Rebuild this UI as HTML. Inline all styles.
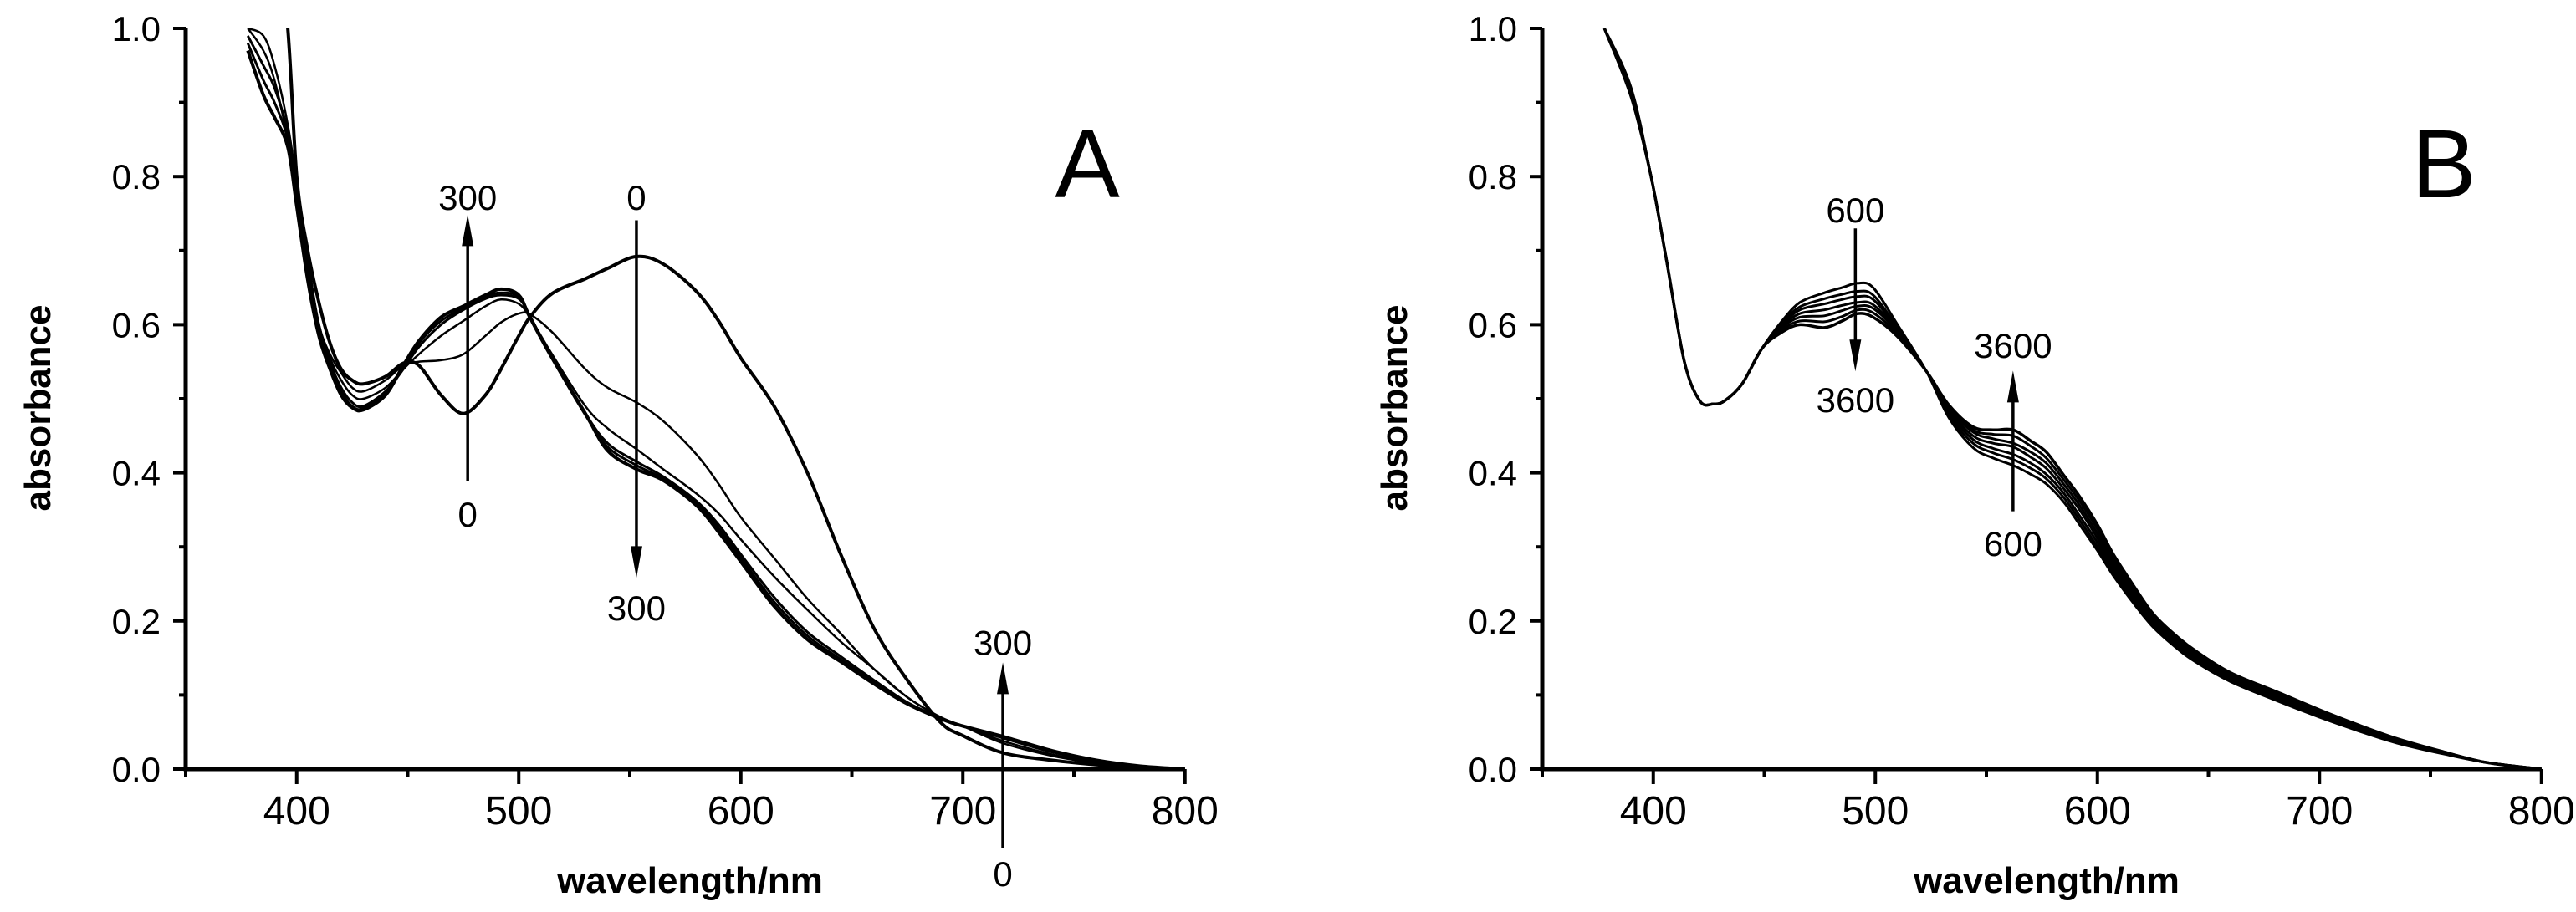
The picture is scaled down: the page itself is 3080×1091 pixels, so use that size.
<!DOCTYPE html>
<html><head><meta charset="utf-8"><style>
html,body{margin:0;padding:0;background:#fff;}
svg{display:block;font-family:"Liberation Sans",Arial,sans-serif;}
</style></head><body>
<svg id="chart" width="3080" height="1091" viewBox="0 0 3080 1091" xmlns="http://www.w3.org/2000/svg"></svg>
<script>
// ---------- Panel A data ----------
const wlA = [378,385,390,396,400,405,410,415,420,425,430,440,448,455,465,475,485,492,500,505,515,530,540,553,565,580,590,600,615,630,645,660,675,690,700,718,740,760,780,800];
const aT0 = [1.6,1.35,1.17,1.0,0.8,0.7,0.63,0.575,0.54,0.525,0.52,0.53,0.548,0.545,0.505,0.48,0.505,0.54,0.585,0.61,0.642,0.662,0.676,0.692,0.682,0.645,0.605,0.555,0.49,0.40,0.29,0.19,0.12,0.063,0.045,0.022,0.012,0.006,0.002,0];
const aT1 = [1.0,0.97,0.93,0.85,0.78,0.68,0.6,0.56,0.535,0.515,0.51,0.525,0.545,0.55,0.552,0.56,0.585,0.603,0.615,0.614,0.59,0.54,0.515,0.495,0.47,0.425,0.385,0.34,0.285,0.23,0.183,0.135,0.097,0.07,0.058,0.035,0.018,0.008,0.003,0];
const aT2 = [1.0,0.99,0.95,0.87,0.79,0.69,0.6,0.555,0.525,0.505,0.5,0.515,0.54,0.56,0.585,0.605,0.625,0.634,0.628,0.61,0.56,0.49,0.46,0.432,0.405,0.372,0.345,0.31,0.26,0.215,0.172,0.135,0.097,0.07,0.058,0.038,0.02,0.009,0.003,0];
const aT3 = [0.99,0.95,0.92,0.86,0.78,0.68,0.6,0.55,0.515,0.495,0.49,0.51,0.54,0.57,0.6,0.62,0.635,0.64,0.635,0.612,0.555,0.48,0.44,0.415,0.395,0.362,0.33,0.29,0.232,0.185,0.152,0.12,0.09,0.069,0.058,0.042,0.023,0.011,0.004,0];
const aT4 = [0.98,0.93,0.90,0.85,0.77,0.67,0.59,0.545,0.51,0.49,0.487,0.508,0.542,0.575,0.605,0.622,0.638,0.643,0.638,0.612,0.555,0.478,0.435,0.41,0.392,0.36,0.325,0.285,0.226,0.18,0.148,0.117,0.089,0.068,0.058,0.043,0.024,0.012,0.004,0];
const aT5 = [0.97,0.91,0.88,0.84,0.76,0.66,0.585,0.54,0.505,0.488,0.485,0.505,0.545,0.578,0.61,0.625,0.64,0.648,0.64,0.61,0.555,0.48,0.43,0.405,0.39,0.356,0.32,0.28,0.22,0.175,0.145,0.115,0.088,0.068,0.058,0.044,0.025,0.012,0.004,0];
const seriesA = [aT0,aT1,aT2,aT3,aT4,aT5];
const widthsA = [4,2.5,2.5,3,3,4];

// ---------- Panel B data ----------
const wlB = [378,390,399,406,414,421,427,432,440,449,458,466,477,485,492,499,510,523,533,544,553,562,570,577,585,592,600,607,616,625,635,644,660,681,700,718,735,755,775,800];
const bT600  = [1.0,0.92,0.80,0.686,0.55,0.497,0.493,0.497,0.52,0.568,0.605,0.630,0.643,0.650,0.656,0.650,0.600,0.537,0.475,0.434,0.420,0.410,0.398,0.385,0.360,0.330,0.295,0.262,0.225,0.192,0.165,0.145,0.118,0.092,0.070,0.051,0.035,0.021,0.009,0];
const bT1100 = [1.0,0.918,0.80,0.686,0.55,0.497,0.493,0.497,0.52,0.568,0.603,0.624,0.635,0.641,0.645,0.640,0.596,0.537,0.478,0.440,0.427,0.418,0.406,0.392,0.366,0.336,0.300,0.266,0.229,0.195,0.168,0.147,0.120,0.094,0.072,0.052,0.036,0.022,0.009,0];
const bT1600 = [1.0,0.916,0.80,0.686,0.55,0.497,0.493,0.497,0.52,0.568,0.600,0.620,0.628,0.634,0.638,0.634,0.594,0.537,0.482,0.445,0.433,0.425,0.413,0.398,0.372,0.342,0.306,0.271,0.233,0.198,0.170,0.150,0.122,0.096,0.073,0.054,0.037,0.022,0.009,0];
const bT2100 = [1.0,0.914,0.80,0.686,0.55,0.497,0.493,0.497,0.52,0.568,0.598,0.615,0.620,0.626,0.630,0.627,0.592,0.537,0.485,0.450,0.440,0.435,0.421,0.406,0.378,0.350,0.312,0.276,0.237,0.201,0.173,0.152,0.124,0.098,0.075,0.055,0.038,0.023,0.009,0];
const bT2600 = [1.0,0.912,0.80,0.686,0.55,0.497,0.493,0.497,0.52,0.568,0.596,0.610,0.612,0.619,0.625,0.622,0.590,0.537,0.488,0.455,0.446,0.440,0.428,0.413,0.384,0.356,0.318,0.281,0.241,0.204,0.176,0.155,0.126,0.100,0.077,0.056,0.039,0.023,0.009,0];
const bT3100 = [1.0,0.91,0.80,0.686,0.55,0.497,0.493,0.497,0.52,0.568,0.593,0.605,0.604,0.611,0.620,0.616,0.587,0.537,0.490,0.458,0.452,0.450,0.436,0.420,0.390,0.362,0.324,0.286,0.245,0.207,0.178,0.157,0.128,0.102,0.078,0.058,0.040,0.024,0.009,0];
const bT3600 = [1.0,0.908,0.80,0.686,0.55,0.497,0.493,0.497,0.52,0.568,0.590,0.600,0.596,0.605,0.615,0.610,0.584,0.537,0.492,0.462,0.458,0.458,0.443,0.428,0.396,0.368,0.330,0.291,0.249,0.210,0.181,0.160,0.130,0.104,0.080,0.059,0.041,0.024,0.009,0];
const seriesB = [bT600,bT1100,bT1600,bT2100,bT2600,bT3100,bT3600];

const xTicks = [400,500,600,700,800];
const yTicks = [0,0.2,0.4,0.6,0.8,1.0];

const NS = "http://www.w3.org/2000/svg";
const svg = document.getElementById('chart');
function mk(tag, attrs, parent){
  const e = document.createElementNS(NS, tag);
  for (const k in attrs) e.setAttribute(k, attrs[k]);
  (parent||svg).appendChild(e);
  return e;
}
function smoothPath(pts){
  let d = 'M'+pts[0][0].toFixed(1)+' '+pts[0][1].toFixed(1);
  for (let i=0;i<pts.length-1;i++){
    const p0 = pts[Math.max(0,i-1)], p1 = pts[i], p2 = pts[i+1], p3 = pts[Math.min(pts.length-1,i+2)];
    const c1x = p1[0]+(p2[0]-p0[0])/6, c1y = p1[1]+(p2[1]-p0[1])/6;
    const c2x = p2[0]-(p3[0]-p1[0])/6, c2y = p2[1]-(p3[1]-p1[1])/6;
    d += ` C${c1x.toFixed(1)} ${c1y.toFixed(1)} ${c2x.toFixed(1)} ${c2y.toFixed(1)} ${p2[0].toFixed(1)} ${p2[1].toFixed(1)}`;
  }
  return d;
}

function panel(id, x0, wl, series, widths, letter, arrows){
  const x1 = x0 + 450*2.655, yTop = 34, yBot = 920;
  const X = v => x0 + (v-350)/450*(x1-x0);
  const Y = v => yBot - v*(yBot-yTop);
  const g = mk('g', {});
  
  
  const cp = mk('clipPath', {id:'clip'+id}, g);
  mk('rect', {x:x0, y:yTop, width:x1-x0, height:yBot-yTop}, cp);
  const sg = mk('g', {'clip-path':'url(#clip'+id+')'}, g);
  series.forEach((s,i)=>{
    const pts = s.map((v,j)=>[X(wl[j]), Y(v)]);
    const p = mk('path', {d:smoothPath(pts), fill:'none', stroke:'#000', 'stroke-width':widths[i], 'stroke-linejoin':'round'}, sg);
    
    
  });
  const ax = mk('path', {d:`M${x0} ${yTop} L${x0} ${yBot} L${x1} ${yBot}`, fill:'none', stroke:'#000', 'stroke-width':5}, g);
  
  
  for (let v=350; v<=800; v+=50){
    const major = v%100===0;
    mk('line', {x1:X(v), x2:X(v), y1:yBot, y2:yBot+(major?18:10), stroke:'#000', 'stroke-width':4}, g);
  }
  for (let k=0; k<=10; k++){
    const major = k%2===0;
    mk('line', {x1:x0, x2:x0-(major?15:8), y1:Y(k/10), y2:Y(k/10), stroke:'#000', 'stroke-width':4}, g);
  }
  xTicks.forEach(v=>{
    const t = mk('text', {x:X(v), y:986, 'font-size':48, 'text-anchor':'middle'}, g);
    t.textContent = v;
    
    
  });
  yTicks.forEach(v=>{
    const t = mk('text', {x:x0-30, y:Y(v)+15, 'font-size':42, 'text-anchor':'end'}, g);
    t.textContent = v.toFixed(1);
    
    
  });
  const xl = mk('text', {x:x0+603, y:1068, 'font-size':44, 'font-weight':'bold', 'text-anchor':'middle'}, g);
  xl.textContent = 'wavelength/nm';
  
  
  const yl = mk('text', {x:0, y:0, 'font-size':44, 'font-weight':'bold', 'text-anchor':'middle', transform:`translate(${x0-162},488) rotate(-90)`}, g);
  yl.textContent = 'absorbance';
  
  
  const pl = mk('text', {x:x0+1078, y:236, 'font-size':116, 'text-anchor':'middle'}, g);
  pl.textContent = letter;
  
  
  arrows.forEach(a=>{
    const ax2 = X(a[0]);
    const yf = a[1]===null ? 1015 : Y(a[1]);
    const yt = Y(a[2]);
    const dir = yt<yf ? 1 : -1;
    const ag = mk('g', {}, g);
    
    
    mk('line', {x1:ax2, x2:ax2, y1:yf, y2:yt+dir*30, stroke:'#000', 'stroke-width':3.5}, ag);
    mk('path', {d:`M${ax2} ${yt} L${ax2-7} ${yt+dir*38} L${ax2+7} ${yt+dir*38} Z`, fill:'#000'}, ag);
    const t1 = mk('text', {x:ax2, y:(a[5]===null?1045:Y(a[5]))+15, 'font-size':42, 'text-anchor':'middle'}, ag);
    t1.textContent = a[3];
    const t2 = mk('text', {x:ax2, y:Y(a[6])+15, 'font-size':42, 'text-anchor':'middle'}, ag);
    t2.textContent = a[4];
  });
}

panel('a', 222, wlA, seriesA, widthsA, 'A', [
  [477, 0.389, 0.749, '0', '300', 0.344, 0.772],
  [553, 0.741, 0.258, '0', '300', 0.772, 0.218],
  [718, null, 0.144, '0', '300', null, 0.171]
]);
panel('b', 1844, wlB, seriesB, [3,3,3,3,3,3,3.5], 'B', [
  [491, 0.73, 0.537, '600', '3600', 0.755, 0.499],
  [562, 0.348, 0.538, '600', '3600', 0.305, 0.572]
]);
</script>
</body></html>
